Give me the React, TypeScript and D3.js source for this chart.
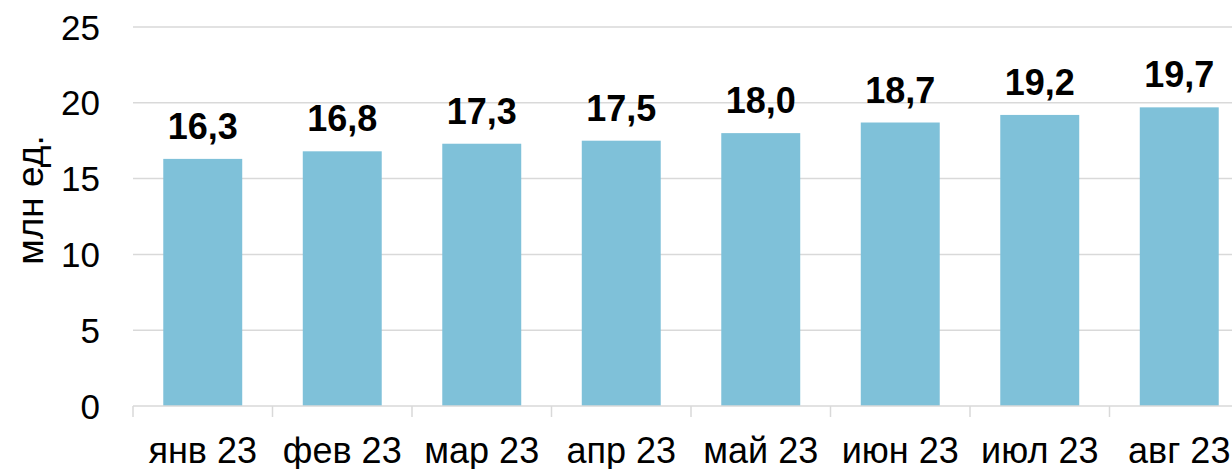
import React, { useEffect, useRef } from "react";
import * as d3 from "d3";

const months = ["янв 23", "фев 23", "мар 23", "апр 23", "май 23", "июн 23", "июл 23", "авг 23"];
const values = [16.3, 16.8, 17.3, 17.5, 18.0, 18.7, 19.2, 19.7];
const yTicks = [0, 5, 10, 15, 20, 25];
const yTitle = "млн ед.";

const W = 1232;
const H = 469;
const m = { top: 27, right: -17, bottom: 63, left: 133 };
const FONT = "Arial, 'Liberation Sans', sans-serif";

export default function App() {
  const ref = useRef<SVGSVGElement>(null);

  useEffect(() => {
    const svg = d3.select(ref.current);
    svg.selectAll("*").remove();

    const innerW = W - m.left - m.right;
    const innerH = H - m.top - m.bottom;

    const x = d3.scaleBand().domain(months).range([0, innerW]).paddingInner(0.434).paddingOuter(0.217);
    const y = d3.scaleLinear().domain([0, 25]).range([innerH, 0]);
    const step = innerW / months.length;

    const g = svg.append("g").attr("transform", `translate(${m.left},${m.top})`);

    // gridlines
    g.selectAll("line.grid")
      .data(yTicks.filter(t => t > 0))
      .enter()
      .append("line")
      .attr("x1", 0)
      .attr("x2", innerW)
      .attr("y1", d => y(d))
      .attr("y2", d => y(d))
      .attr("stroke", "#d9d9d9")
      .attr("stroke-width", 1.5);

    // y labels
    g.selectAll("text.ytick")
      .data(yTicks)
      .enter()
      .append("text")
      .attr("x", -33)
      .attr("y", d => y(d))
      .attr("dy", "0.36em")
      .attr("text-anchor", "end")
      .attr("font-family", FONT)
      .attr("font-size", 35)
      .attr("fill", "#000")
      .text(d => d);

    // bars
    g.selectAll("rect")
      .data(values)
      .enter()
      .append("rect")
      .attr("x", (d, i) => x(months[i])!)
      .attr("y", d => y(d))
      .attr("width", x.bandwidth())
      .attr("height", d => innerH - y(d))
      .attr("fill", "#7fc1d9");

    // value labels
    g.selectAll("text.val")
      .data(values)
      .enter()
      .append("text")
      .attr("x", (d, i) => x(months[i])! + x.bandwidth() / 2)
      .attr("y", d => y(d) - 20)
      .attr("text-anchor", "middle")
      .attr("font-family", FONT)
      .attr("font-size", 36)
      .attr("font-weight", "bold")
      .attr("fill", "#000")
      .text(d => d.toFixed(1).replace(".", ","));

    // x axis
    const xAxis = g.append("g").attr("transform", `translate(0,${innerH})`);
    xAxis.append("line")
      .attr("x1", 0).attr("x2", innerW)
      .attr("stroke", "#d9d9d9").attr("stroke-width", 1.5);
    xAxis.selectAll("line.tick")
      .data(d3.range(months.length + 1))
      .enter()
      .append("line")
      .attr("x1", i => i * step)
      .attr("x2", i => i * step)
      .attr("y1", 0)
      .attr("y2", 11)
      .attr("stroke", "#d9d9d9")
      .attr("stroke-width", 1.5);
    xAxis.selectAll("text")
      .data(months)
      .enter()
      .append("text")
      .attr("x", d => x(d)! + x.bandwidth() / 2)
      .attr("y", 57)
      .attr("text-anchor", "middle")
      .attr("font-family", FONT)
      .attr("font-size", 36)
      .attr("fill", "#000")
      .text(d => d);

    // y title
    svg.append("text")
      .attr("transform", `translate(43,200) rotate(-90)`)
      .attr("text-anchor", "middle")
      .attr("font-family", FONT)
      .attr("font-size", 37)
      .attr("fill", "#000")
      .text(yTitle);
  }, []);

  return (
    <svg
      ref={ref}
      width={W}
      height={H}
      style={{ position: "absolute", left: 0, top: 0, background: "#fff" }}
    />
  );
}
